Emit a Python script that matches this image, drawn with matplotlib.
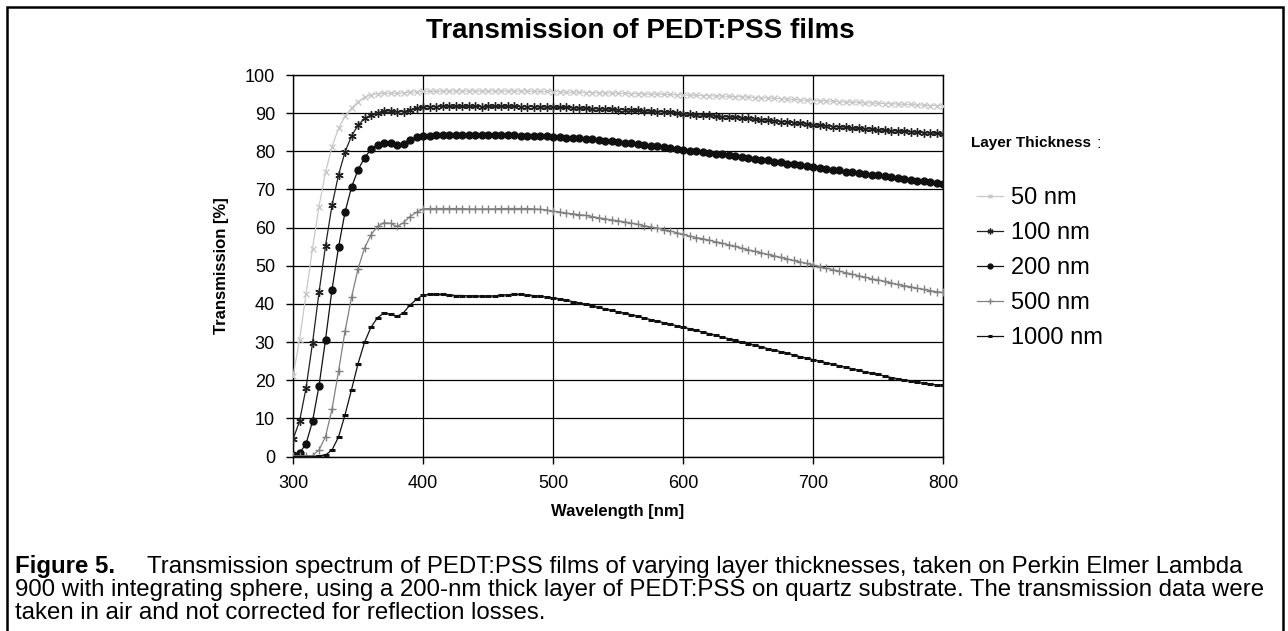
import numpy as np
import matplotlib
matplotlib.use('Agg')
import matplotlib.pyplot as plt
from matplotlib.patches import Rectangle

plt.rcParams['font.family'] = ['Liberation Sans', 'DejaVu Sans']

# wavelength grid of the measurement, 300..800 nm in 5 nm steps
wavelength = list(range(300, 805, 5))

t_50 = [21.0, 30.5, 42.5, 54.5, 65.5, 74.5, 81.2, 86.0, 89.2, 91.3, 93.0, 94.2, 94.8, 95.1, 95.2, 95.2, 95.2, 95.3, 95.5, 95.6, 95.7,
        95.7, 95.7, 95.8, 95.8, 95.8, 95.8, 95.8, 95.8, 95.8, 95.8, 95.8, 95.8, 95.8, 95.8, 95.8, 95.8, 95.7, 95.7, 95.7, 95.6,
        95.6, 95.5, 95.5, 95.5, 95.4, 95.4, 95.3, 95.3, 95.3, 95.2, 95.2, 95.1, 95.1, 95.0, 95.0, 95.0, 94.9, 94.9, 94.8, 94.8,
        94.7, 94.7, 94.6, 94.6, 94.5, 94.5, 94.4, 94.3, 94.3, 94.2, 94.1, 94.0, 94.0, 93.9, 93.8, 93.7, 93.6, 93.5, 93.4, 93.3,
        93.2, 93.2, 93.1, 93.0, 92.9, 92.9, 92.8, 92.7, 92.7, 92.6, 92.5, 92.5, 92.4, 92.3, 92.3, 92.2, 92.1, 92.0, 92.0, 91.9]

t_100 = [4.5, 9.2, 17.9, 29.7, 43.0, 55.2, 65.8, 73.8, 79.8, 84.0, 86.8, 88.6, 89.5, 90.1, 90.5, 90.6, 90.4, 90.4, 90.8, 91.3, 91.6,
         91.7, 91.7, 91.8, 91.8, 91.8, 91.8, 91.8, 91.8, 91.7, 91.8, 91.8, 91.8, 91.8, 91.8, 91.7, 91.7, 91.7, 91.6, 91.6, 91.6,
         91.5, 91.5, 91.4, 91.3, 91.3, 91.2, 91.1, 91.1, 91.0, 90.9, 90.9, 90.8, 90.7, 90.6, 90.5, 90.4, 90.3, 90.2, 90.0, 89.8,
         89.7, 89.6, 89.5, 89.4, 89.2, 89.1, 89.0, 88.9, 88.7, 88.6, 88.4, 88.3, 88.1, 88.0, 87.8, 87.7, 87.5, 87.3, 87.1, 86.9,
         86.8, 86.7, 86.5, 86.4, 86.3, 86.1, 86.0, 85.9, 85.8, 85.6, 85.5, 85.4, 85.3, 85.2, 85.1, 85.0, 84.9, 84.8, 84.7, 84.6]

t_200 = [0.4, 0.9, 3.3, 9.2, 18.5, 30.6, 43.7, 54.8, 64.0, 70.6, 75.1, 78.3, 80.5, 81.7, 82.2, 82.2, 81.6, 81.9, 83.0, 83.7, 84.0,
         84.1, 84.2, 84.2, 84.2, 84.2, 84.2, 84.2, 84.2, 84.2, 84.2, 84.2, 84.2, 84.2, 84.2, 84.1, 84.1, 84.0, 84.0, 83.9, 83.8,
         83.7, 83.6, 83.5, 83.4, 83.3, 83.1, 83.0, 82.8, 82.6, 82.4, 82.3, 82.1, 81.9, 81.7, 81.5, 81.3, 81.1, 80.9, 80.7, 80.4,
         80.2, 80.0, 79.8, 79.6, 79.4, 79.2, 79.0, 78.7, 78.5, 78.3, 78.1, 77.8, 77.6, 77.3, 77.1, 76.8, 76.6, 76.3, 76.1, 75.8,
         75.6, 75.4, 75.2, 75.0, 74.7, 74.5, 74.3, 74.1, 73.9, 73.7, 73.4, 73.2, 73.0, 72.8, 72.6, 72.3, 72.1, 71.9, 71.7, 71.5]

t_500 = [0.2, 0.2, 0.2, 0.2, 1.7, 5.2, 12.4, 22.3, 32.8, 41.7, 49.2, 54.6, 58.1, 60.3, 61.3, 61.1, 60.3, 61.3, 62.9, 64.0, 64.9,
         65.0, 65.0, 65.0, 65.0, 65.0, 65.0, 64.9, 64.9, 64.9, 64.9, 64.9, 65.0, 65.0, 65.0, 65.0, 65.0, 64.9, 64.8, 64.6, 64.3,
         64.1, 63.8, 63.6, 63.4, 63.2, 62.9, 62.6, 62.3, 62.0, 61.8, 61.5, 61.2, 60.9, 60.5, 60.2, 59.9, 59.5, 59.1, 58.7, 58.2,
         57.8, 57.4, 57.1, 56.7, 56.3, 55.9, 55.5, 55.1, 54.6, 54.2, 53.8, 53.4, 53.0, 52.6, 52.2, 51.8, 51.4, 51.0, 50.6, 50.2,
         49.8, 49.4, 49.0, 48.6, 48.2, 47.8, 47.4, 47.0, 46.6, 46.3, 45.9, 45.5, 45.1, 44.8, 44.5, 44.1, 43.8, 43.5, 43.2, 43.0]

t_1000 = [0.0, 0.0, 0.0, 0.0, 0.2, 0.4, 1.7, 5.1, 10.9, 17.5, 24.3, 29.9, 33.9, 36.4, 37.6, 37.3, 36.7, 37.7, 39.7, 41.2, 42.3,
          42.5, 42.5, 42.5, 42.4, 42.2, 42.2, 42.1, 42.1, 42.0, 42.0, 42.1, 42.3, 42.4, 42.5, 42.5, 42.3, 42.2, 42.0, 41.8, 41.6,
          41.3, 41.0, 40.6, 40.3, 39.9, 39.5, 39.1, 38.7, 38.3, 37.9, 37.6, 37.2, 36.8, 36.3, 35.9, 35.5, 35.1, 34.7, 34.3, 33.9,
          33.5, 33.1, 32.6, 32.2, 31.8, 31.3, 30.9, 30.5, 30.0, 29.6, 29.2, 28.8, 28.3, 27.9, 27.5, 27.1, 26.6, 26.2, 25.8, 25.4,
          25.0, 24.6, 24.2, 23.8, 23.4, 23.0, 22.6, 22.2, 21.8, 21.5, 21.1, 20.7, 20.4, 20.1, 19.8, 19.5, 19.2, 19.0, 18.8, 18.7]

labels = ['50 nm', '100 nm', '200 nm', '500 nm', '1000 nm']
series = [t_50, t_100, t_200, t_500, t_1000]
colors = ['#c8c8c8', '#202020', '#101010', '#808080', '#101010']
markers = ['x', (6, 2, 0), 'o', '+', '_']
msizes = [5, 6, 5, 6, 5]

fig = plt.figure(figsize=(12.88, 6.31), dpi=100)
ax = fig.add_axes([293 / 1288, 1 - 456.5 / 631, 650 / 1288, 381.5 / 631])

for y, lab, c, m, ms in zip(series, labels, colors, markers, msizes):
    ax.plot(wavelength, y, color=c, lw=0.9, marker=m, ms=ms, mew=1.0 if m != '_' else 2.2,
            label=lab, zorder=3)

ax.set_xlim(300, 800)
ax.set_ylim(0, 100)
ax.set_xticks(range(300, 801, 100))
ax.set_yticks(range(0, 101, 10))
ax.grid(True, color='black', lw=0.9)
ax.set_axisbelow(True)
for s in ax.spines.values():
    s.set_color('black')
    s.set_linewidth(1.0)
ax.tick_params(direction='out', length=5, width=1, labelsize=13, colors='black', pad=8)
ax.set_xlabel('Wavelength [nm]', fontsize=12, fontweight='bold', labelpad=9)
ax.set_ylabel('Transmission [%]', fontsize=12, fontweight='bold', labelpad=11)

fig.text(640 / 1288, 1 - 31 / 631, 'Transmission of PEDT:PSS films', ha='center', va='center',
         fontsize=20, fontweight='bold')

# legend heading
fig.text(971 / 1288, 1 - 143 / 631, 'Layer Thickness', fontsize=11, fontweight='bold', va='center')
fig.text(1096 / 1288, 1 - 143 / 631, ':', fontsize=11.5, va='center')

ax.legend(loc='upper left', bbox_to_anchor=(977 / 1288, 1 - 187 / 631), bbox_transform=fig.transFigure,
          frameon=False, fontsize=17, handlelength=1.1, handletextpad=0.33, labelspacing=0.55, markerscale=0.7,
          borderaxespad=0, borderpad=0)

# caption
cap_fs = 17.3
fig.text(15 / 1288, 1 - 567 / 631, 'Figure 5.', fontsize=cap_fs, fontweight='bold', va='center')
fig.text(147 / 1288, 1 - 567 / 631, 'Transmission spectrum of PEDT:PSS films of varying layer thicknesses, taken on Perkin Elmer Lambda',
         fontsize=cap_fs, va='center')
fig.text(15 / 1288, 1 - 590 / 631, '900 with integrating sphere, using a 200-nm thick layer of PEDT:PSS on quartz substrate. The transmission data were',
         fontsize=cap_fs, va='center')
fig.text(15 / 1288, 1 - 613 / 631, 'taken in air and not corrected for reflection losses.', fontsize=cap_fs, va='center')

# outer frame
fig.patches.append(Rectangle((7 / 1288, -0.01), 1276 / 1288, 1 - 7 / 631 + 0.01, transform=fig.transFigure,
                             fill=False, ec='black', lw=1.8))

fig.savefig('out.png', dpi=100)
